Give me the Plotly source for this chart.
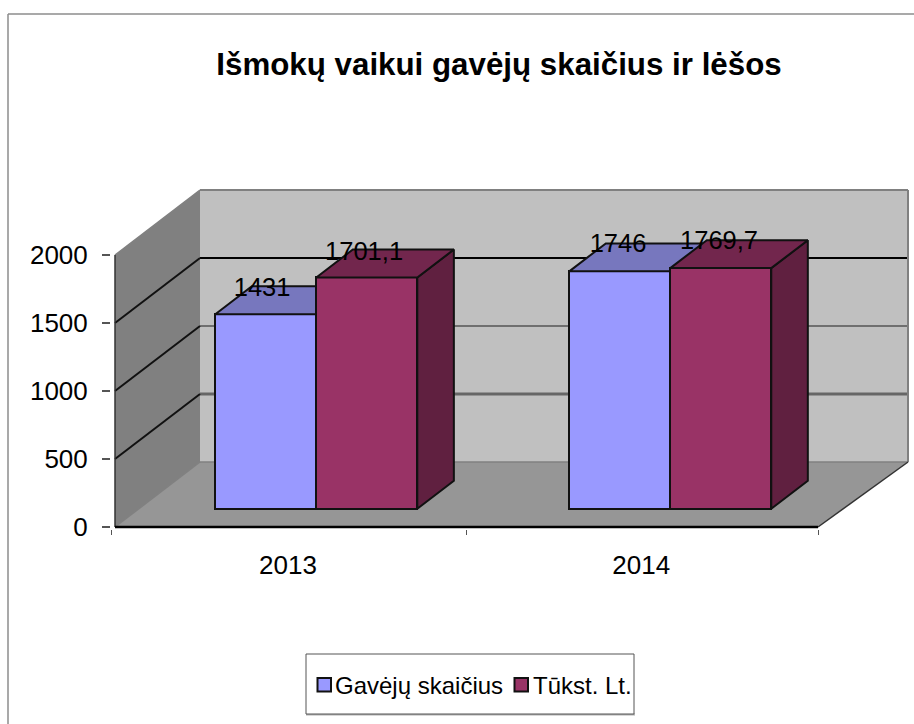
import plotly.graph_objects as go

# ---- data ----
categories = ["2013", "2014"]
series_names = ["Gavėjų skaičius", "Tūkst. Lt."]
gavejai = [1431, 1746]
tukst_lt = [1701.1, 1769.7]
label_gavejai = ["1431", "1746"]
label_tukst = ["1701,1", "1769,7"]
y_ticks = [0, 500, 1000, 1500, 2000]

# ---- style / geometry ----
FONT = "Liberation Sans"
PX_X = 351.5          # pixels per category
PX_Y = 0.136          # pixels per value unit
DX = 85 / PX_X        # full depth, in x units
DY = 65 / PX_Y        # full depth, in value units
BAR_W = 101 / PX_X
D0, D1 = 0.28, 0.71   # bar depth extent
BACK_EXTRA = 5 / PX_X
BLUE, BLUE_TOP, BLUE_SIDE = "#9999FF", "#7777BE", "#5A5A96"
RED, RED_TOP, RED_SIDE = "#993366", "#72264D", "#602040"
WALL_BACK, WALL_LEFT, FLOOR = "#C0C0C0", "#808080", "#969696"
GRID_STYLE = {0: ("#808080", 1.5), 500: ("#666666", 3), 1000: ("#555555", 1.5),
              1500: ("#000000", 2), 2000: ("#808080", 2)}
# label nudges in pixels (x, y up)
LABEL_NUDGE = {"a": [(-22, 11), (-20, 12)], "b": [(-21, 10), (-20, 12)]}
PLOT_L, PLOT_R, PLOT_T, PLOT_B = 111, 910, 188, 529


def pj(x, v, d):
    return x + d * DX, v + d * DY


def px(a):
    return (a - PLOT_L) / (PLOT_R - PLOT_L)


def py(b):
    return (PLOT_B - b) / (PLOT_B - PLOT_T)


def poly(points, color, xa, ya):
    xs, ys = zip(*[pj(*p) for p in points + points[:1]])
    return go.Scatter(x=list(xs), y=list(ys), mode="lines", fill="toself", fillcolor=color,
                      line=dict(color="#111111", width=2), showlegend=False, hoverinfo="skip",
                      xaxis=xa, yaxis=ya)


def wall(points, color):
    xs, ys = zip(*[pj(*p) for p in points])
    path = "M" + "L".join(f"{a},{b}" for a, b in zip(xs, ys)) + "Z"
    return dict(type="path", path=path, xref="x", yref="y", fillcolor=color, line=dict(width=0), layer="below")


def seg(p, q, color, width):
    a, b = pj(*p), pj(*q)
    return dict(type="line", x0=a[0], y0=a[1], x1=b[0], y1=b[1], xref="x", yref="y",
                line=dict(color=color, width=width), layer="below")


def dom_line(x0, y0, x1, y1, color, width):
    return dict(type="line", xref="x domain", yref="y domain", x0=px(x0), x1=px(x1), y0=py(y0), y1=py(y1),
                line=dict(color=color, width=width))


def dom_rect(x0, y0, x1, y1, fill, color, width):
    return dict(type="rect", xref="x domain", yref="y domain", x0=px(x0), x1=px(x1), y0=py(y0), y1=py(y1),
                fillcolor=fill, line=dict(color=color, width=width))


top = max(y_ticks)
XE = 2 + BACK_EXTRA
shapes = [
    wall([(0, 0, 1), (XE, 0, 1), (XE, top, 1), (0, top, 1)], WALL_BACK),
    wall([(0, 0, 0), (2, 0, 0), (XE, 0, 1), (0, 0, 1)], FLOOR),
    wall([(0, 0, 0), (0, top, 0), (0, top, 1), (0, 0, 1)], WALL_LEFT),
]
for t in y_ticks:
    c, w = GRID_STYLE[t]
    shapes.append(seg((0, t, 1), (XE, t, 1), c, w))
    shapes.append(seg((0, t, 0), (0, t, 1), "#111111" if 0 < t < top else "#808080", 2 if 0 < t < top else 1.5))
shapes += [
    seg((XE, 0, 1), (XE, top, 1), "#808080", 2),
    seg((2, 0, 0), (XE, 0, 1), "#333333", 1.5),
    seg((0, 0, 0), (0, top, 0), "#333333", 1.5),
    seg((0, 0, 0), (2, 0, 0), "#000000", 2.5),
    # outer chart frame
    dom_line(8, 14, 914, 14, "#8c8c8c", 1.5),
    dom_line(8, 14, 8, 724, "#8c8c8c", 1.5),
    # legend frame, with its soft lower edge, and keys
    dom_line(306, 714.5, 635, 714.5, "#b0b0b0", 2),
    dom_rect(306, 654, 634, 714, "#FFFFFF", "#555555", 1),
    dom_rect(317.5, 678, 331, 691.5, BLUE, "#111111", 2),
    dom_rect(514.5, 678, 528, 691.5, RED, "#111111", 2),
]

fig = go.Figure()
centres = [0.505, 1.512]


def add_series(values, name, col, col_top, col_side, left, xa, ya):
    xs = [c + left * BAR_W for c in centres]
    fig.add_trace(go.Bar(x=[pj(x + BAR_W / 2, 0, D0)[0] for x in xs], y=values,
                         base=[D0 * DY] * len(values), width=BAR_W, name=name, showlegend=False,
                         marker=dict(color=col, line=dict(color="#111111", width=2)),
                         xaxis=xa, yaxis=ya))
    for x, v in zip(xs, values):
        fig.add_trace(poly([(x + BAR_W, 0, D0), (x + BAR_W, v, D0), (x + BAR_W, v, D1), (x + BAR_W, 0, D1)],
                           col_side, xa, ya))
        fig.add_trace(poly([(x, v, D0), (x + BAR_W, v, D0), (x + BAR_W, v, D1), (x, v, D1)],
                           col_top, xa, ya))


add_series(gavejai, series_names[0], BLUE, BLUE_TOP, BLUE_SIDE, -1, "x", "y")
add_series(tukst_lt, series_names[1], RED, RED_TOP, RED_SIDE, 0, "x2", "y2")

# value labels, on the top layer
for values, left, labels, nudges in [(gavejai, -1, label_gavejai, LABEL_NUDGE["a"]),
                                     (tukst_lt, 0, label_tukst, LABEL_NUDGE["b"])]:
    lx, ly = [], []
    for c, v, (nx, ny) in zip(centres, values, nudges):
        a, b = pj(c + (left + 0.5) * BAR_W, v, (D0 + D1) / 2)
        lx.append(a + nx / PX_X)
        ly.append(b + ny / PX_Y)
    fig.add_trace(go.Scatter(x=lx, y=ly, text=labels, mode="text", textposition="middle center",
                             textfont=dict(family=FONT, size=25.5, color="#000000"), cliponaxis=False,
                             showlegend=False, hoverinfo="skip", xaxis="x2", yaxis="y2"))

x_range = [-4 / PX_X, (PLOT_R - 115) / PX_X]
y_range = [-2 / PX_Y, (527 - PLOT_T) / PX_Y]

annotations = [
    dict(text=series_names[0], xref="x domain", yref="y domain", x=px(333), y=py(685), xanchor="left",
         yanchor="middle", showarrow=False, font=dict(family=FONT, size=24, color="#000000")),
    dict(text=series_names[1], xref="x domain", yref="y domain", x=px(531), y=py(685), xanchor="left",
         yanchor="middle", showarrow=False, font=dict(family=FONT, size=24, color="#000000")),
]

fig.update_layout(
    width=914, height=724, autosize=False, showlegend=False,
    margin=dict(l=PLOT_L, r=914 - PLOT_R, t=PLOT_T, b=724 - PLOT_B),
    paper_bgcolor="#FFFFFF", plot_bgcolor="#FFFFFF",
    font=dict(family=FONT, color="#000000", size=26),
    title=dict(text="Išmokų vaikui gavėjų skaičius ir lėšos", x=499 / 914, xanchor="center",
               y=1 - 64 / 724, yanchor="middle", font=dict(family=FONT, size=31.3, color="#000000", weight="bold")),
    bargap=0,
    xaxis=dict(range=x_range, tickmode="array", tickvals=[0.492, 1.497], ticktext=categories, ticks="", showgrid=False,
               zeroline=False, showline=False, ticklabelstandoff=18,
               minor=dict(tickmode="array", tickvals=[0 - 4 / PX_X, 1, 2], ticks="outside", ticklen=5,
                          tickcolor="#555555", tickwidth=1, showgrid=False),
               tickfont=dict(size=26)),
    yaxis=dict(range=y_range, tickmode="array", tickvals=y_ticks, ticks="outside", ticklen=8, tickcolor="#555555",
               tickwidth=1.5, showgrid=False, zeroline=False, showline=False, ticklabelstandoff=9,
               tickfont=dict(size=26)),
    xaxis2=dict(range=x_range, overlaying="x", visible=False),
    yaxis2=dict(range=y_range, overlaying="y", visible=False),
    shapes=shapes,
    annotations=annotations,
)

fig.write_html("out.html", post_script="document.body.style.margin='0';", config={"displayModeBar": False})
